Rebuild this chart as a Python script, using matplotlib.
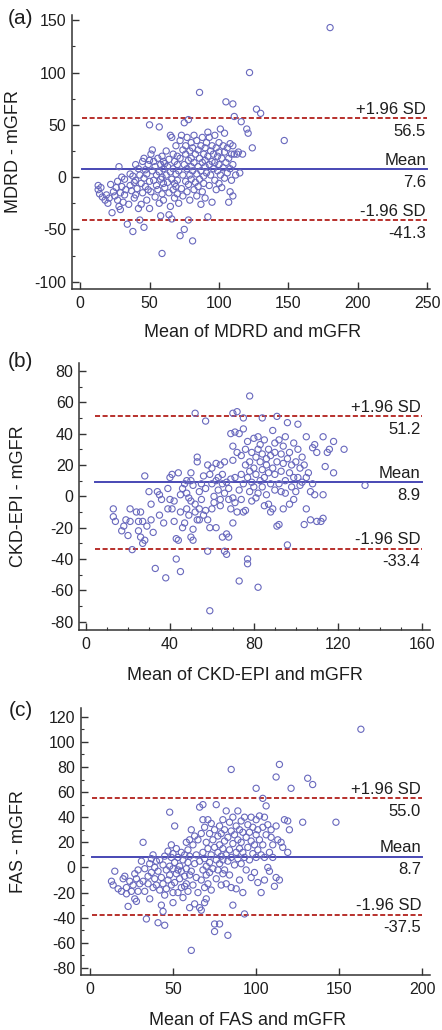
import numpy as np
import matplotlib
matplotlib.use("Agg")
import matplotlib.pyplot as plt
from matplotlib.ticker import MultipleLocator

plt.rcParams['font.family'] = ['Liberation Sans', 'DejaVu Sans']
plt.rcParams['axes.unicode_minus'] = False

# (mean of the two methods, difference)
a_points = [
    (13, -8), (13, -12), (14, -16), (15, -10), (16, -19), (18, -22), (19, -17), (20, -25),
    (21, -20), (22, -7), (23, -34), (24, -14), (25, -18), (26, -10), (27, -4), (27, -22),
    (28, 10), (28, -28), (29, -31), (29, -15), (30, 0), (30, -9),
    (31, -24), (32, -2), (32, -17), (33, -12), (34, -45), (35, -26), (36, 3), (36, -8),
    (37, -13), (38, -52), (38, 1), (39, -20), (39, -5), (40, -17), (40, 12), (40, -3),
    (41, -11), (42, -30), (42, 8), (43, -41), (43, 2), (44, -26), (44, -6), (45, 15),
    (45, -15), (46, -48), (46, 18), (46, -1), (47, -9), (47, 7), (48, -22), (48, 3),
    (49, 12), (49, -12), (50, -30), (50, 50), (50, -4), (50, 16),
    (51, 22), (51, -14), (52, 26), (52, 6), (53, -3), (53, 15), (54, -19), (54, 10),
    (55, -8), (55, 2), (56, 18), (56, -12), (57, 48), (57, 5), (57, -25), (58, -37),
    (58, 12), (58, -2), (59, -73), (59, 20), (59, -16), (60, 8), (60, -6), (60, 15),
    (60, -22), (59, 0),
    (61, 13), (61, -10), (62, 2), (62, 25), (63, -5), (63, 10), (64, -36), (64, 17),
    (64, -15), (65, 40), (65, -28), (65, 5), (66, -40), (66, 38), (66, -2), (67, 22),
    (67, -12), (67, 8), (68, 15), (68, -20), (68, -6), (69, 30), (69, 3), (69, -9),
    (70, 12), (70, -16), (70, 20), (70, -3),
    (71, -25), (71, 6), (72, -56), (72, 35), (72, 18), (73, -11), (73, 40), (74, 2),
    (74, 26), (74, -18), (75, -50), (75, 52), (75, 12), (76, -4), (76, 30), (76, 22),
    (77, -14), (77, 8), (77, 38), (78, -41), (78, 55), (78, 16), (78, -7), (79, 25),
    (79, 2), (79, -22), (80, 10), (80, 33), (80, -2), (80, 18),
    (81, -61), (81, 6), (81, 28), (82, -12), (82, 40), (82, 14), (83, 22), (83, -5),
    (84, 3), (84, 35), (84, -18), (85, 10), (85, 26), (85, -9), (86, 81), (86, 18),
    (86, -2), (87, 30), (87, 6), (87, -26), (88, 14), (88, 38), (88, -14), (89, 22),
    (89, 1), (89, -6), (90, 28), (90, 10), (90, -20), (90, 16),
    (91, 4), (91, 33), (92, -38), (92, 43), (92, 20), (93, 12), (93, -8), (93, 38),
    (94, 25), (94, 2), (95, 15), (95, -24), (95, 30), (96, 8), (96, 22), (97, -3),
    (97, 40), (97, 14), (98, 28), (98, -12), (99, 6), (99, 20), (100, 33), (100, -6),
    (100, 12), (100, 24),
    (101, 46), (101, 2), (102, 18), (102, -10), (103, 30), (103, 9), (104, 42), (104, 24),
    (104, -1), (105, 72), (105, 14), (106, 4), (106, 28), (107, -24), (107, 18), (108, 8),
    (108, 32), (109, 22), (109, -3), (110, 70), (110, 12), (110, -18), (110, 30), (108, -14),
    (111, 58), (111, 22), (112, 2), (113, 22), (114, 24), (115, 4), (116, 53), (117, 22),
    (120, 46), (121, 42), (124, 28), (127, 65), (130, 61), (122, 100),
    (147, 35), (180, 143),
]

b_points = [
    (13, -8), (13, -13), (14, -16), (17, -22), (18, -19), (20, -25), (19, -15),
    (21, -16), (21, -8), (22, -34), (24, -10), (25, -16), (25, -22), (26, -26), (26, -10),
    (27, -30), (27, -16), (28, 13), (28, -28), (29, -19), (30, 3),
    (31, -5), (31, -15), (32, -23), (33, -46), (34, 3), (35, -12), (35, 1), (36, -2),
    (37, -17), (38, -52), (39, -8), (40, 12), (40, -2), (39, 5),
    (41, -8), (41, 14), (42, -3), (42, -16), (43, -40), (43, -27), (44, -28), (44, 15),
    (45, -48), (45, -10), (45, 1), (46, 5), (46, -20), (47, 8), (47, -17), (48, -8),
    (48, 2), (49, -1), (49, -12), (50, 15), (50, 10), (50, -3), (50, -26), (48, 10),
    (51, -21), (51, -28), (51, 7), (52, 53), (52, -10), (52, -5), (53, 25), (53, 22),
    (53, -15), (54, -15), (54, -8), (54, 3), (55, 8), (55, -2), (56, -12), (56, 13),
    (57, 48), (57, 5), (57, -9), (58, 20), (58, -15), (58, -35), (59, 14), (59, -20),
    (59, -73), (60, -8), (60, 8), (60, 18),
    (61, 0), (61, -4), (62, 21), (62, 10), (62, -20), (63, 4), (63, 12), (64, -6),
    (64, 20), (64, -2), (65, 8), (65, 14), (65, -26), (66, -35), (66, 22), (66, 2),
    (67, -37), (67, -24), (67, 9), (68, -2), (68, 5), (68, -26), (69, 40), (69, -8),
    (69, 11), (70, 53), (70, 32), (70, -1), (70, 23), (70, -17),
    (71, 41), (71, -4), (71, 12), (72, 54), (72, 28), (72, -10), (73, -54), (73, 40),
    (73, 4), (74, 14), (74, -2), (74, 26), (75, 50), (75, 43), (75, 8), (75, -10),
    (76, 20), (76, -9), (76, 30), (77, -43), (77, -40), (77, 12), (77, 35), (78, 64),
    (78, 22), (78, 3), (78, 16), (79, 28), (79, 9), (79, -3), (80, 37), (80, 18),
    (80, 6), (81, 25), (81, -1), (81, 14), (82, -58), (82, 38), (82, 30), (82, 2),
    (83, 22), (83, 10), (83, 33), (84, 50), (84, 17), (84, 6), (84, 27), (85, 36),
    (85, 12), (85, -6), (86, 24), (86, 1), (86, 20), (87, -5), (87, 30), (87, 15),
    (88, 8), (88, -10), (88, 26), (89, 42), (89, 18), (89, -8), (90, 4), (90, 28),
    (90, 14), (90, 34),
    (91, 51), (91, -19), (91, 22), (92, 8), (92, 36), (92, -18), (93, 27), (93, 16),
    (93, 3), (94, 32), (94, 21), (94, -8), (95, 10), (95, 38), (95, 2), (96, -31),
    (96, 47), (96, 24), (97, 15), (97, -5), (97, 28), (98, 6), (98, 20), (99, 34),
    (99, -2), (99, 12), (100, 22), (100, 3),
    (101, 46), (101, 12), (101, 30), (102, 18), (102, 7), (103, 9), (103, 25), (104, -18),
    (104, 20), (105, -8), (105, 38), (105, 12), (106, 15), (107, -15), (107, 3), (108, 8),
    (108, 31), (109, 33), (109, 1), (110, 28),
    (112, -16), (113, -14), (113, 1), (113, 38), (114, 19), (115, 28), (116, 30), (118, 35),
    (118, 15), (123, 30), (133, 7), (110, -16),
]

c_points = [
    (13, -11), (14, -14), (15, -3), (17, -17), (19, -19), (20, -9),
    (21, -7), (22, -21), (22, -16), (23, -31), (24, -11), (25, -19), (26, -14), (27, -5),
    (27, -25), (28, -9), (28, -27), (29, -19), (30, -13), (29, -2),
    (31, 5), (32, 20), (32, -11), (33, -1), (33, -19), (34, -41), (35, -7), (35, -13),
    (36, 3), (36, -25), (37, 7), (37, -4), (38, -16), (38, 10), (39, 0), (39, -9),
    (40, -14), (40, 5),
    (41, -44), (41, -3), (42, 6), (42, -18), (43, -30), (43, -8), (44, -35), (44, 2),
    (44, -13), (45, -46), (45, -22), (45, 9), (46, -2), (46, -17), (47, -10), (47, 13),
    (48, 44), (48, 1), (48, -6), (49, -14), (49, 8), (49, 18), (50, -28), (50, -1),
    (50, 11), (50, -20),
    (51, 33), (51, 4), (51, -12), (52, -5), (52, 15), (53, -20), (53, 8), (54, -9),
    (54, 1), (55, 12), (55, -16), (55, -3), (56, 6), (56, -24), (57, 10), (57, -7),
    (58, 20), (58, -1), (58, -13), (59, 4), (59, 14), (59, -19), (60, -32), (60, -6),
    (60, 9), (60, 22), (57, -15), (53, -2),
    (61, -66), (61, 30), (61, -3), (62, 18), (62, -14), (63, -29), (63, 25), (63, 3),
    (64, -8), (64, 10), (65, 22), (65, -20), (66, 48), (66, -32), (66, 5), (67, -34),
    (67, 27), (67, -10), (68, 50), (68, 38), (68, 12), (68, -2), (69, -16), (69, 32),
    (69, 7), (70, -25), (70, 20), (70, 1), (70, -6), (69, -28),
    (71, 38), (71, 15), (71, -13), (72, 4), (72, 27), (72, -4), (73, 35), (73, 10),
    (73, -18), (74, 22), (74, -1), (75, -51), (75, -45), (75, 16), (75, 30), (76, 50),
    (76, 6), (76, -9), (77, 25), (77, 12), (77, -2), (78, -45), (78, 33), (78, 18),
    (78, 3), (79, 9), (79, -14), (79, 27), (80, 15), (80, -5), (80, 38), (80, 6),
    (81, 21), (81, -2), (81, 30), (82, 10), (82, 45), (82, -13), (83, -54), (83, 24),
    (83, 5), (84, 36), (84, 14), (84, -6), (85, 78), (85, 29), (85, 8), (85, -16),
    (86, -30), (86, 19), (86, 40), (87, 2), (87, 26), (88, 12), (88, 33), (88, -17),
    (89, 45), (89, 7), (89, 22), (90, -10), (90, 30), (90, 15),
    (91, 37), (91, 3), (91, 20), (92, -20), (92, 12), (92, 28), (93, -37), (93, 40),
    (93, 8), (94, 24), (94, -2), (95, 16), (95, 34), (96, 6), (96, 28), (97, -8),
    (97, 21), (97, 40), (98, 11), (98, 32), (99, -4), (99, 18), (100, 63), (100, 26),
    (100, 8), (100, 38),
    (101, -12), (101, 30), (101, 14), (102, 41), (102, 22), (103, 10), (103, -20), (104, 55),
    (104, 32), (104, 18), (105, -10), (105, 40), (105, 8), (106, 49), (106, 26), (107, 0),
    (107, 34), (108, 12), (108, -3), (109, 24), (109, 30), (110, 18),
    (111, -15), (112, 72), (112, -8), (112, 33), (113, 22), (114, 82), (114, -10), (115, 20),
    (116, 16), (117, 38), (119, 37), (120, 30), (119, 12), (121, 63), (128, 36), (131, 71),
    (134, 66), (148, 36), (163, 110), (110, 8),
]

# mean difference, +1.96 SD, -1.96 SD
a_stats = [7.6, 56.5, -41.3]
b_stats = [8.9, 51.2, -33.4]
c_stats = [8.7, 55.0, -37.5]

letters = ['(a)', '(b)', '(c)']
ylabels = ['MDRD - mGFR', 'CKD-EPI - mGFR', 'FAS - mGFR']
xlabels = ['Mean of MDRD and mGFR', 'Mean of CKD-EPI and mGFR', 'Mean of FAS and mGFR']
xticks = [[0, 50, 100, 150, 200, 250], [0, 40, 80, 120, 160], [0, 50, 100, 150, 200]]
yticks = [[-100, -50, 0, 50, 100, 150], list(range(-80, 81, 20)), list(range(-80, 121, 20))]

# layout
boxes = [[0.163, 0.7194, 0.810, 0.266],
         [0.179, 0.3883, 0.794, 0.2592],
         [0.183, 0.0534, 0.790, 0.2592]]
xlims = [(-5.8, 252), (-3.3, 164), (-5.4, 204.6)]
ylims = [(-107, 155), (-85.3, 85), (-85.6, 126.9)]
line_x = [(1.2, 250), (4.3, 160), (1.0, 200)]
xminor = [None, 10, None]
yminor = [25, 10, 10]
ylab_x = [-0.14, -0.148, -0.155]
xlab_y = [-0.128, -0.14, -0.14]
xlab_x = [0.503, 0.473, 0.478]
letter_y = [18, 362, 710]   # pixel rows from the top

pt_color = '#6868bd'
mean_color = '#4848b4'
sd_color = '#b8302c'
txt = '#1e1e1e'

fig = plt.figure(figsize=(4.42, 10.30), dpi=100)

panels = [a_points, b_points, c_points]
stats = [a_stats, b_stats, c_stats]

for i in range(3):
    ax = fig.add_axes(boxes[i])
    pts = np.array(panels[i], dtype=float)
    ax.scatter(pts[:, 0], pts[:, 1], s=20, facecolors='none', edgecolors=pt_color,
               linewidths=0.8, zorder=3)

    m, up, lo = stats[i]
    x0, x1 = line_x[i]
    ax.plot([x0, x1], [m, m], color=mean_color, lw=1.4, zorder=2)
    ax.plot([x0, x1], [up, up], color=sd_color, lw=1.4, dashes=(2.6, 1.3), zorder=2)
    ax.plot([x0, x1], [lo, lo], color=sd_color, lw=1.4, dashes=(2.6, 1.3), zorder=2)

    # labels at the right end of the lines
    for yv, top, bottom in [(up, '+1.96 SD', '%.1f' % up),
                            (m, 'Mean', '%.1f' % m),
                            (lo, '-1.96 SD', '%.1f' % lo)]:
        ax.annotate(top, (x1, yv), xytext=(-1, 1), textcoords='offset points',
                    ha='right', va='bottom', fontsize=12, color=txt)
        ax.annotate(bottom, (x1, yv), xytext=(-1, -4), textcoords='offset points',
                    ha='right', va='top', fontsize=12, color=txt)

    ax.set_xlim(*xlims[i])
    ax.set_ylim(*ylims[i])
    ax.set_xticks(xticks[i])
    ax.set_yticks(yticks[i])
    if xminor[i]:
        ax.xaxis.set_minor_locator(MultipleLocator(xminor[i]))
    ax.yaxis.set_minor_locator(MultipleLocator(yminor[i]))
    ax.tick_params(which='both', direction='in', colors='#333333', labelcolor=txt,
                   labelsize=11.5)
    ax.tick_params(which='major', length=5, width=1.0)
    ax.tick_params(which='minor', length=2.5, width=0.8)
    ax.tick_params(axis='x', pad=5)
    ax.tick_params(axis='y', pad=4)

    for s in ['top', 'right']:
        ax.spines[s].set_visible(False)
    for s in ['left', 'bottom']:
        ax.spines[s].set_color('#333333')
        ax.spines[s].set_linewidth(1.1)

    ax.set_ylabel(ylabels[i], fontsize=13, color=txt)
    ax.yaxis.set_label_coords(ylab_x[i], 0.5)
    ax.set_xlabel(xlabels[i], fontsize=13, color=txt)
    ax.xaxis.set_label_coords(xlab_x[i], xlab_y[i])

    fig.text(33 / 442, 1 - letter_y[i] / 1030, letters[i], fontsize=15,
             color=txt, ha='right', va='center')

fig.savefig('out.png', dpi=100)
